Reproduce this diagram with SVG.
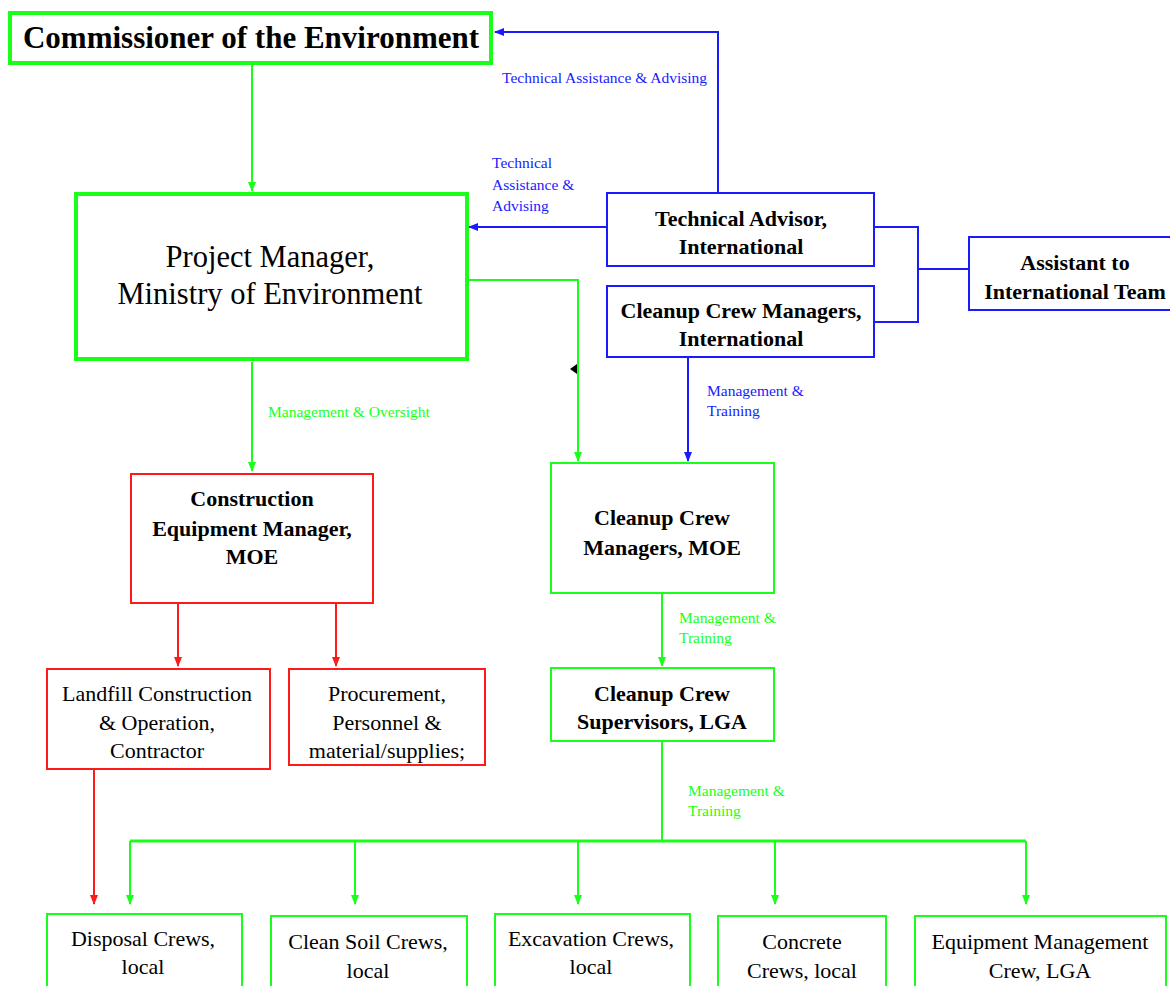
<svg xmlns="http://www.w3.org/2000/svg" width="1170" height="986" viewBox="0 0 1170 986">
<style>
text{font-family:"Liberation Serif","Times New Roman",serif;text-anchor:middle;fill:#000}
.b{font-weight:bold}
.box{fill:#fff;stroke-width:2}
.g{stroke:#1aff1a}
.bl{stroke:#1a1aff}
.r{stroke:#ff1a1a}
.thick{stroke-width:4}
.ln{fill:none;stroke-width:2}
.lg{fill:#1aff1a;font-size:15.5px;text-anchor:start}
.lb{fill:#1a1aff;font-size:15.5px;text-anchor:start}
.t{font-size:22px}
</style>
<defs>
<marker id="ag" markerWidth="10" markerHeight="10" refX="9" refY="5" orient="auto" markerUnits="userSpaceOnUse"><path d="M0,1 L10,5 L0,9 z" fill="#1aff1a"/></marker>
<marker id="ab" markerWidth="10" markerHeight="10" refX="9" refY="5" orient="auto" markerUnits="userSpaceOnUse"><path d="M0,1 L10,5 L0,9 z" fill="#1a1aff"/></marker>
<marker id="ar" markerWidth="10" markerHeight="10" refX="9" refY="5" orient="auto" markerUnits="userSpaceOnUse"><path d="M0,1 L10,5 L0,9 z" fill="#ff1a1a"/></marker>
</defs>
<rect width="1170" height="986" fill="#fff"/>

<g id="connectors">
<path class="ln g" d="M252,64 V191" marker-end="url(#ag)"/>
<path class="ln bl" d="M718,193 V32 H495" marker-end="url(#ab)"/>
<path class="ln bl" d="M606,227 H469" marker-end="url(#ab)"/>
<path class="ln bl" d="M874,227 H918 V322 H874 M918,269 H969"/>
<path class="ln g" d="M468,280 H578 V461" marker-end="url(#ag)"/>
<path d="M570,369 L577,364 L577,374 z" fill="#000"/>
<path class="ln bl" d="M688,357 V461" marker-end="url(#ab)"/>
<path class="ln g" d="M252,362 V471" marker-end="url(#ag)"/>
<path class="ln r" d="M178,603 V666" marker-end="url(#ar)"/>
<path class="ln r" d="M336,603 V666" marker-end="url(#ar)"/>
<path class="ln g" d="M662,593 V666" marker-end="url(#ag)"/>
<path class="ln g" d="M662,741 V841"/>
<path fill="none" stroke="#1aff1a" stroke-width="3" d="M130,841 H1026"/>
<path class="ln g" d="M130,841 V904" marker-end="url(#ag)"/>
<path class="ln g" d="M355,841 V904" marker-end="url(#ag)"/>
<path class="ln g" d="M578,841 V904" marker-end="url(#ag)"/>
<path class="ln g" d="M775,841 V904" marker-end="url(#ag)"/>
<path class="ln g" d="M1026,841 V904" marker-end="url(#ag)"/>
<path class="ln r" d="M94,769 V904" marker-end="url(#ar)"/>
<text class="lb" x="502" y="83">Technical Assistance &amp; Advising</text>
<text class="lb" x="492" y="168">Technical</text>
<text class="lb" x="492" y="190">Assistance &amp;</text>
<text class="lb" x="492" y="211">Advising</text>
<text class="lg" x="268" y="417">Management &amp; Oversight</text>
<text class="lb" x="707" y="396">Management &amp;</text>
<text class="lb" x="707" y="416">Training</text>
<text class="lg" x="679" y="623">Management &amp;</text>
<text class="lg" x="679" y="643">Training</text>
<text class="lg" x="688" y="796">Management &amp;</text>
<text class="lg" x="688" y="816">Training</text>
</g>

<g id="commissioner">
<rect class="box g thick" x="10" y="13" width="481" height="50"/>
<text class="b" x="251" y="48" font-size="31">Commissioner of the Environment</text>
</g>

<g id="project-manager">
<rect class="box g thick" x="76" y="194" width="391" height="165"/>
<text x="270" y="267" font-size="30.5">Project Manager,</text>
<text x="270" y="304" font-size="30.5">Ministry of Environment</text>
</g>

<g id="technical-advisor">
<rect class="box bl" x="607" y="193" width="267" height="73"/>
<text class="b t" x="741" y="226">Technical Advisor,</text>
<text class="b t" x="741" y="254">International</text>
</g>

<g id="cleanup-intl">
<rect class="box bl" x="607" y="286" width="267" height="71"/>
<text class="b t" x="741" y="318">Cleanup Crew Managers,</text>
<text class="b t" x="741" y="346">International</text>
</g>

<g id="assistant">
<rect class="box bl" x="969" y="237" width="205" height="73"/>
<text class="b t" x="1075" y="270">Assistant to</text>
<text class="b t" x="1075" y="299">International Team</text>
</g>

<g id="construction-manager">
<rect class="box r" x="131" y="474" width="242" height="129"/>
<text class="b t" x="252" y="506">Construction</text>
<text class="b t" x="252" y="536">Equipment Manager,</text>
<text class="b t" x="252" y="564">MOE</text>
</g>

<g id="cleanup-moe">
<rect class="box g" x="551" y="463" width="223" height="130"/>
<text class="b t" x="662" y="525">Cleanup Crew</text>
<text class="b t" x="662" y="555">Managers, MOE</text>
</g>

<g id="landfill">
<rect class="box r" x="47" y="669" width="223" height="100"/>
<text class="t" x="157" y="701">Landfill Construction</text>
<text class="t" x="157" y="730">&amp; Operation,</text>
<text class="t" x="157" y="758">Contractor</text>
</g>

<g id="procurement">
<rect class="box r" x="289" y="669" width="196" height="96"/>
<text class="t" x="387" y="701">Procurement,</text>
<text class="t" x="387" y="730">Personnel &amp;</text>
<text class="t" x="387" y="758">material/supplies;</text>
</g>

<g id="supervisors">
<rect class="box g" x="551" y="668" width="223" height="73"/>
<text class="b t" x="662" y="701">Cleanup Crew</text>
<text class="b t" x="662" y="729">Supervisors, LGA</text>
</g>

<g id="disposal">
<rect class="box g" x="47" y="914" width="195" height="80"/>
<text class="t" x="143" y="946">Disposal Crews,</text>
<text class="t" x="143" y="974">local</text>
</g>

<g id="clean-soil">
<rect class="box g" x="271" y="916" width="196" height="80"/>
<text class="t" x="368" y="949">Clean Soil Crews,</text>
<text class="t" x="368" y="978">local</text>
</g>

<g id="excavation">
<rect class="box g" x="495" y="914" width="195" height="80"/>
<text class="t" x="591" y="946">Excavation Crews,</text>
<text class="t" x="591" y="974">local</text>
</g>

<g id="concrete">
<rect class="box g" x="718" y="916" width="168" height="80"/>
<text class="t" x="802" y="949">Concrete</text>
<text class="t" x="802" y="978">Crews, local</text>
</g>

<g id="equipment">
<rect class="box g" x="915" y="916" width="251" height="80"/>
<text class="t" x="1040" y="949">Equipment Management</text>
<text class="t" x="1040" y="978">Crew, LGA</text>
</g>
</svg>
